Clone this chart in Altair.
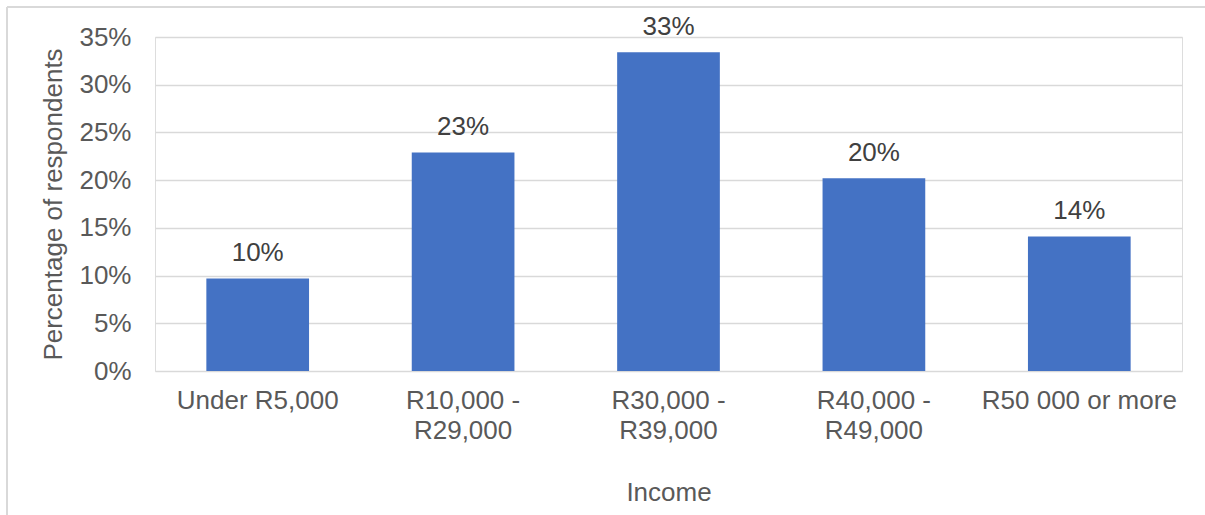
import altair as alt
import pandas as pd

categories = ["Under R5,000", "R10,000 -\nR29,000", "R30,000 -\nR39,000", "R40,000 -\nR49,000", "R50 000 or more"]
values = [0.097, 0.229, 0.334, 0.202, 0.141]

df = pd.DataFrame({"income": categories, "pct": values})

TEXT = "#595959"
FONT = "Liberation Sans"
FS = 26

x_enc = alt.X(
    "income:N",
    sort=categories,
    title="Income",
    scale=alt.Scale(paddingInner=0.5, paddingOuter=0.25),
    axis=alt.Axis(
        labelAngle=0,
        labelExpr="split(datum.label, '\\n')",
        labelFontSize=FS,
        labelColor=TEXT,
        labelFont=FONT,
        labelLineHeight=30,
        labelPadding=16,
        labelBaseline="top",
        labelLimit=400,
        ticks=False,
        domain=False,
        grid=False,
        titleFontSize=FS,
        titleColor=TEXT,
        titleFont=FONT,
        titleFontWeight="normal",
        titlePadding=36,
    ),
)

y_enc = alt.Y(
    "pct:Q",
    title="Percentage of respondents",
    scale=alt.Scale(domain=[0, 0.35], nice=False),
    axis=alt.Axis(
        values=[0, 0.05, 0.10, 0.15, 0.20, 0.25, 0.30, 0.35],
        format=".0%",
        labelFontSize=FS,
        labelColor=TEXT,
        labelFont=FONT,
        labelPadding=24,
        ticks=False,
        domain=False,
        gridColor="#d9d9d9",
        gridWidth=1.5,
        titleFontSize=FS,
        titleColor=TEXT,
        titleFont=FONT,
        titleFontWeight="normal",
        titlePadding=12,
    ),
)

bars = alt.Chart(df).mark_bar(color="#4472C4").encode(x=x_enc, y=y_enc)

labels = alt.Chart(df).mark_text(
    fontSize=FS, color="#404040", font=FONT, baseline="alphabetic", dy=-17
).encode(
    x=alt.X("income:N", sort=categories),
    y="pct:Q",
    text=alt.Text("pct:Q", format=".0%"),
)

border_left = alt.Chart(df).mark_rule(color="#d9d9d9", strokeWidth=1.5).encode(
    x=alt.value(-148), y=alt.value(-30), y2=alt.value(478)
)
border_top = alt.Chart(df).mark_rule(color="#d9d9d9", strokeWidth=1.5).encode(
    x=alt.value(-148), x2=alt.value(1050), y=alt.value(-30)
)

chart = (
    alt.layer(bars, labels, border_left, border_top)
    .properties(
        width=1027,
        height=334,
        padding={"left": 155, "top": 37, "right": 23, "bottom": 144},
        autosize=alt.AutoSizeParams(type="none"),
    )
    .configure_view(strokeWidth=0, stroke="transparent")
    .configure(background="white")
)

chart.save("out.html", embed_options={"renderer": "svg", "actions": False})
